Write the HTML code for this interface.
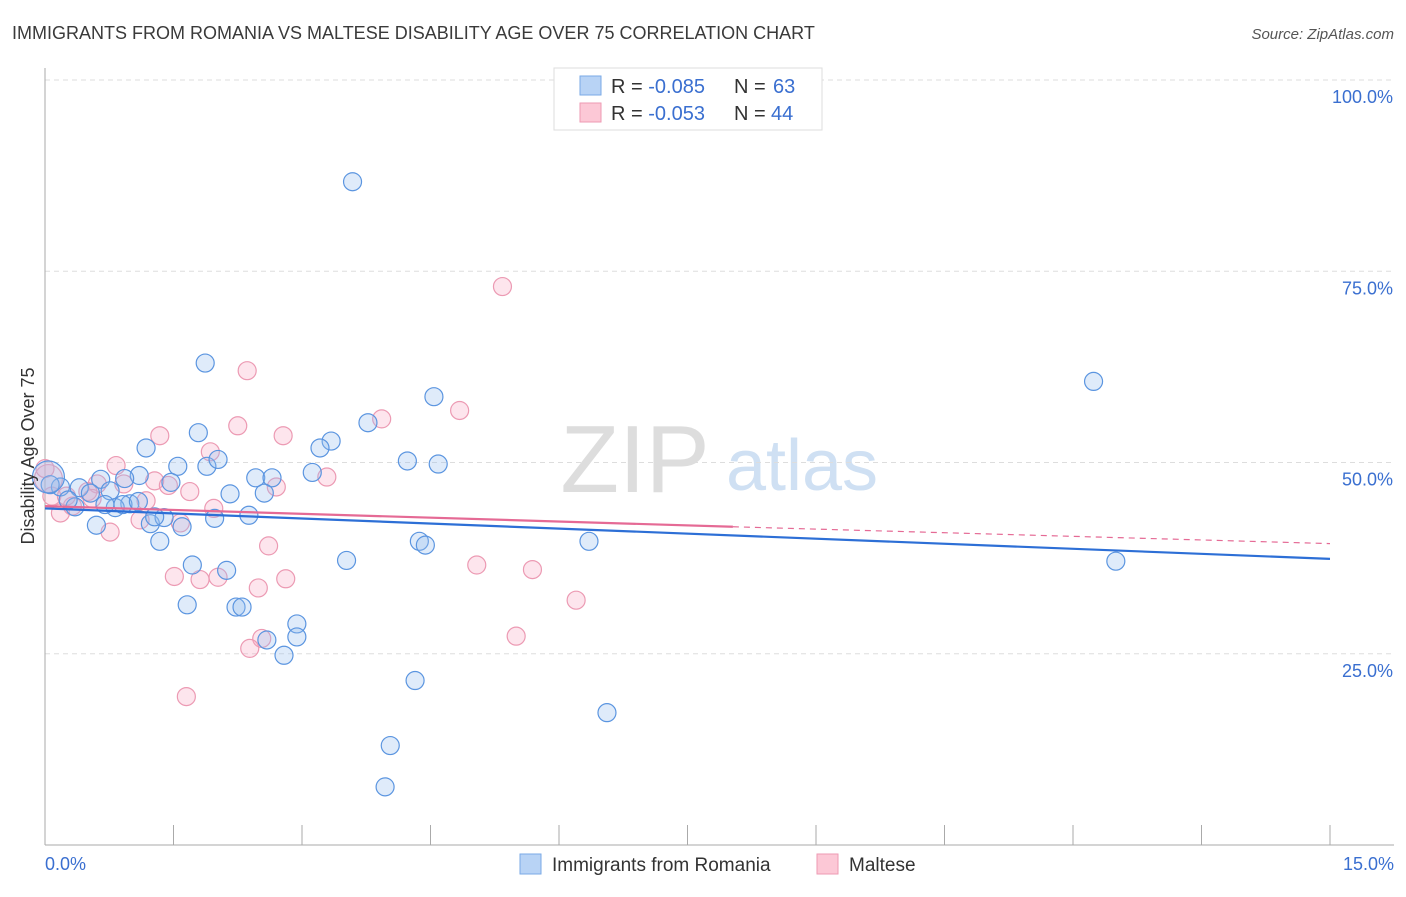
<!DOCTYPE html>
<html><head><meta charset="utf-8"><style>
body{margin:0;background:#fff;font-family:"Liberation Sans",sans-serif}
svg text{font-family:"Liberation Sans",sans-serif}
</style></head><body>
<svg id="chart" width="1406" height="892" xmlns="http://www.w3.org/2000/svg">
<text x="12" y="39" font-size="18" fill="#3a3a3a">IMMIGRANTS FROM ROMANIA VS MALTESE DISABILITY AGE OVER 75 CORRELATION CHART</text>
<text x="1394" y="39" font-size="15" fill="#555" text-anchor="end" font-style="italic">Source: ZipAtlas.com</text>
<g>
<text x="635" y="492" font-size="96" fill="#ddd" text-anchor="middle" font-family="Liberation Serif">ZIP</text>
<text x="802" y="490" font-size="72" fill="#cfe0f3" text-anchor="middle">atlas</text>
</g>
<g id="grid"></g>
<g id="axes"></g>
<g id="pts"></g>
<g id="trends"></g>
<text transform="translate(34,456) rotate(-90)" font-size="18" fill="#333" text-anchor="middle">Disability Age Over 75</text>
<g>
<rect x="554" y="68" width="268" height="62" fill="#fff" stroke="#ddd"/>
<rect x="580" y="76" width="21" height="19" fill="#b8d3f5" stroke="#7aa9e6"/>
<rect x="580" y="103" width="21" height="19" fill="#fcc8d6" stroke="#ee9ab3"/>
<text x="611" y="93" font-size="20" fill="#333">R = <tspan fill="#3a6fd0">-0.085</tspan></text>
<text x="734" y="93" font-size="20" fill="#333">N = </text>
<text x="773" y="93" font-size="20" fill="#3a6fd0">63</text>
<text x="611" y="120" font-size="20" fill="#333">R = <tspan fill="#3a6fd0">-0.053</tspan></text>
<text x="734" y="120" font-size="20" fill="#333">N = </text>
<text x="771" y="120" font-size="20" fill="#3a6fd0">44</text>
</g>
<g>
<rect x="520" y="854" width="21" height="20" fill="#b8d3f5" stroke="#7aa9e6"/>
<text x="552" y="871" font-size="19" fill="#333">Immigrants from Romania</text>
<rect x="817" y="854" width="21" height="20" fill="#fcc8d6" stroke="#ee9ab3"/>
<text x="849" y="871" font-size="19" fill="#333">Maltese</text>
</g>
</svg>
<script>
const yTicks=[25,50,75,100];
const yTickLabels=["25.0%","50.0%","75.0%","100.0%"];
const blueX=[3.59,1.87,12.24,4.54,3.77,1.79,3.34,1.18,3.21,4.23,4.59,1.55,1.89,2.02,3.12,1.10,0.93,0.65,2.46,2.65,1.47,2.16,2.56,0.40,0.18,0.06,0.76,0.99,0.82,1.23,1.39,1.28,1.98,2.38,1.60,0.60,0.35,1.34,4.37,4.44,6.35,3.52,1.72,2.12,12.50,1.66,2.23,2.30,2.94,2.94,2.59,2.79,4.32,6.56,4.03,3.97,0.04,0.53,0.27,0.91,0.70,1.09];
const blueY=[86.7,63.0,60.6,58.6,55.2,53.9,52.8,51.9,51.9,50.2,49.8,49.5,49.5,50.4,48.7,48.3,47.9,47.8,48.0,48.0,47.4,45.9,46.0,46.7,46.8,47.1,46.3,44.6,44.1,42.0,42.8,42.9,42.7,43.1,41.6,41.8,44.2,39.7,39.7,39.2,39.7,37.2,36.6,35.9,37.1,31.4,31.1,31.1,28.9,27.2,26.8,24.8,21.5,17.3,13.0,7.6,48.1,46.0,45.1,44.5,44.5,44.9];
const pinkX=[5.34,2.36,3.93,4.84,2.25,1.34,2.78,1.93,0.83,1.28,1.69,3.29,2.70,1.44,0.61,0.50,1.18,1.97,1.11,1.58,0.76,0.18,0.32,0.08,5.04,5.69,1.51,1.81,2.02,2.81,2.61,2.49,6.20,5.50,2.53,2.39,1.65,0.92,0.55,0.04,0.25,0.0];
const pinkY=[73.0,62.0,55.7,56.8,54.8,53.5,53.5,51.4,49.6,47.6,46.2,48.1,46.8,47.0,47.2,46.2,45.0,44.0,42.5,42.1,40.9,43.4,44.3,45.6,36.6,36.0,35.1,34.7,35.0,34.8,39.1,33.6,32.0,27.3,27.0,25.7,19.4,47.2,45.3,47.9,45.6,49.2];
const blueTrend=[44.0,37.4];
const pinkTrend=[44.3,41.6,39.4];
const X0=45,X1=1330,Y0=845,Y100=80;
const sx=v=>X0+(v/15)*(X1-X0), sy=v=>Y0-(v/100)*(Y0-Y100);
const NS="http://www.w3.org/2000/svg";
function mk(tag,attrs,parent){const e=document.createElementNS(NS,tag);for(const k in attrs)e.setAttribute(k,attrs[k]);document.getElementById(parent).appendChild(e);return e;}
yTicks.forEach((t,i)=>{
 const l=mk('line',{x1:X0,x2:1394,y1:sy(t),y2:sy(t),stroke:'#ddd','stroke-dasharray':'5,4'},'grid');
 
 
 const tx=mk('text',{x:1393,y:sy(t)+23,'font-size':18,fill:'#3a6fd0','text-anchor':'end'},'axes');
 tx.textContent=yTickLabels[i];
 
 
});
const ax=mk('line',{x1:X0,x2:X0,y1:68,y2:845,stroke:'#aaa'},'axes');


const bx=mk('line',{x1:X0,x2:1394,y1:845,y2:845,stroke:'#aaa'},'axes');


for(let i=0;i<=10;i++){const t=mk('line',{x1:sx(i*1.5),x2:sx(i*1.5),y1:825,y2:845,stroke:'#aaa'},'axes');
 
 }
[["0.0%",X0,'start'],["15.0%",1394,'end']].forEach(a=>{const t=mk('text',{x:a[1],y:870,'font-size':18,fill:'#3a6fd0','text-anchor':a[2]},'axes');t.textContent=a[0];
 
 });
pinkX.forEach((v,i)=>{const c=mk('circle',{cx:sx(v),cy:sy(pinkY[i]),r:i>=39?(i==39?14:9):9,fill:'rgba(248,170,195,0.3)',stroke:'#ec9ab3','stroke-width':1.2},'pts');
 
 });
blueX.forEach((v,i)=>{const c=mk('circle',{cx:sx(v),cy:sy(blueY[i]),r:i==56?16:9,fill:'rgba(150,190,240,0.3)',stroke:'#5b95e0','stroke-width':1.2},'pts');
 
 });
const bt=mk('line',{x1:sx(0),y1:sy(blueTrend[0]),x2:sx(15),y2:sy(blueTrend[1]),stroke:'#2d6fd6','stroke-width':2.2},'trends');


const pt=mk('line',{x1:sx(0),y1:sy(pinkTrend[0]),x2:sx(8.03),y2:sy(pinkTrend[1]),stroke:'#e56a95','stroke-width':2.2},'trends');


const pd=mk('line',{x1:sx(8.03),y1:sy(pinkTrend[1]),x2:sx(15),y2:sy(pinkTrend[2]),stroke:'#e56a95','stroke-width':1.2,'stroke-dasharray':'6,5'},'trends');


</script>
</body></html>
